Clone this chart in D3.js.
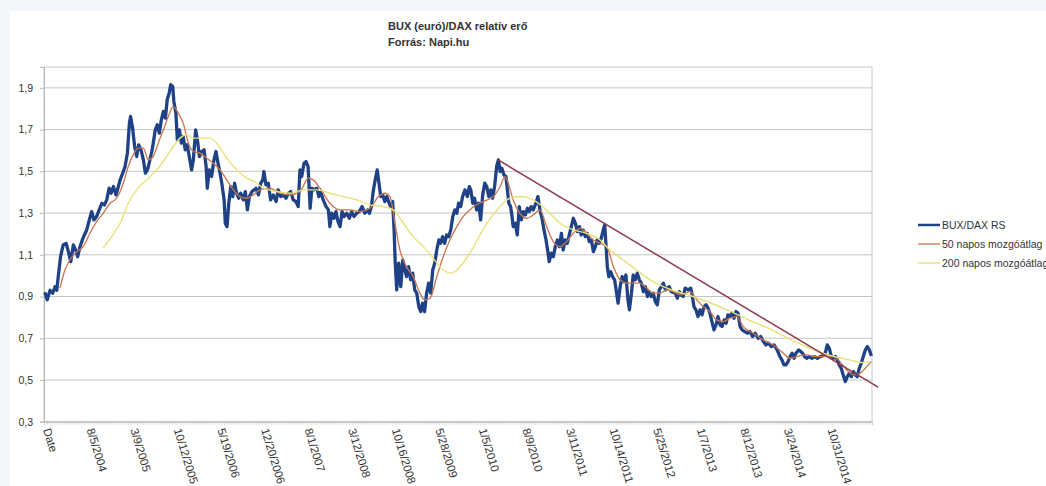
<!DOCTYPE html>
<html><head><meta charset="utf-8">
<script src="https://cdn.jsdelivr.net/npm/d3@7"></script>
<style>
html,body{margin:0;padding:0;background:#f2f5f9;}
svg{display:block;}
text{font-family:"Liberation Sans",Arial,sans-serif;}
</style></head><body>
<svg id="chart" width="1046" height="486"></svg>
<script>
// ---- data ----
const titleLines = ["BUX (euró)/DAX relatív erő", "Forrás: Napi.hu"];
const tickLabels = ["Date","8/5/2004","3/9/2005","10/12/2005","5/19/2006","12/20/2006","8/1/2007","3/12/2008","10/16/2008","5/28/2009","1/5/2010","8/9/2010","3/11/2011","10/14/2011","5/25/2012","1/7/2013","8/12/2013","3/24/2014","10/31/2014"];
const labelEvery = 150; // categories between labels
const categoryCount = 2850;
const yTicks = [0.3,0.5,0.7,0.9,1.1,1.3,1.5,1.7,1.9];
const seriesNames = ["BUX/DAX RS","50 napos mozgóátlag","200 napos mozgóátlag"];

const rsDay = [3,11,21,30,38,44,49,57,66,76,84,92,101,109,116,124,132,139,147,156,164,172,181,190,199,208,216,224,231,239,248,256,262,271,279,287,294,298,305,312,319,326,334,342,349,356,362,371,376,383,390,397,404,411,418,424,431,436,443,447,454,459,466,473,479,486,493,500,508,514,522,528,535,543,551,558,562,569,577,585,592,599,606,612,620,624,630,636,643,650,656,663,670,677,686,693,700,707,716,730,738,746,753,757,764,772,780,789,799,806,815,824,833,841,849,858,867,875,881,887,895,902,909,916,922,929,939,946,952,961,971,979,984,991,998,1005,1012,1019,1026,1033,1042,1051,1059,1067,1076,1085,1095,1104,1113,1120,1127,1133,1140,1147,1153,1159,1166,1173,1180,1186,1193,1200,1205,1209,1214,1221,1228,1235,1242,1248,1255,1262,1269,1276,1283,1290,1297,1303,1310,1317,1324,1331,1338,1345,1352,1359,1365,1372,1379,1386,1393,1400,1407,1414,1421,1427,1434,1441,1449,1457,1464,1469,1476,1482,1489,1496,1503,1510,1517,1524,1531,1538,1544,1551,1558,1564,1570,1576,1583,1590,1595,1600,1606,1611,1615,1622,1629,1636,1643,1650,1657,1664,1670,1677,1684,1693,1700,1707,1714,1721,1728,1735,1739,1746,1753,1760,1767,1774,1781,1787,1794,1801,1808,1815,1822,1829,1836,1843,1849,1856,1863,1870,1877,1884,1891,1898,1904,1911,1918,1925,1930,1934,1939,1944,1951,1957,1964,1971,1976,1983,1990,1996,2003,2010,2015,2022,2028,2035,2042,2049,2056,2063,2070,2077,2083,2090,2097,2104,2111,2118,2125,2132,2139,2145,2152,2159,2166,2173,2180,2187,2192,2200,2207,2217,2226,2230,2237,2244,2251,2258,2265,2272,2279,2286,2292,2299,2306,2313,2320,2327,2334,2341,2348,2354,2361,2368,2375,2382,2389,2396,2403,2412,2421,2430,2439,2448,2458,2467,2476,2485,2494,2503,2513,2520,2526,2533,2540,2547,2554,2561,2568,2575,2582,2588,2598,2605,2611,2618,2625,2634,2643,2653,2662,2671,2680,2689,2696,2703,2710,2717,2724,2731,2737,2744,2751,2758,2765,2772,2779,2786,2793,2799,2806,2813,2820,2827,2834,2841,2848];
const rsValue = [0.92,0.884,0.93,0.916,0.947,0.93,0.995,1.091,1.147,1.155,1.115,1.067,1.147,1.123,1.091,1.139,1.171,1.195,1.219,1.267,1.307,1.267,1.283,1.315,1.347,1.339,1.363,1.419,1.395,1.427,1.387,1.427,1.459,1.491,1.523,1.587,1.731,1.763,1.707,1.619,1.571,1.627,1.603,1.555,1.491,1.507,1.539,1.595,1.635,1.699,1.723,1.683,1.747,1.787,1.755,1.843,1.875,1.915,1.907,1.835,1.779,1.651,1.699,1.635,1.667,1.603,1.627,1.571,1.507,1.555,1.699,1.651,1.571,1.595,1.603,1.523,1.419,1.507,1.475,1.555,1.595,1.539,1.491,1.443,1.363,1.251,1.235,1.347,1.427,1.379,1.443,1.395,1.371,1.395,1.363,1.403,1.315,1.379,1.403,1.419,1.387,1.443,1.459,1.499,1.435,1.443,1.363,1.387,1.355,1.411,1.379,1.387,1.371,1.395,1.403,1.363,1.355,1.331,1.507,1.475,1.539,1.547,1.523,1.323,1.419,1.411,1.419,1.379,1.403,1.363,1.331,1.315,1.235,1.299,1.275,1.307,1.259,1.235,1.307,1.283,1.299,1.275,1.307,1.283,1.299,1.307,1.331,1.299,1.315,1.299,1.331,1.403,1.459,1.507,1.443,1.379,1.387,1.355,1.379,1.355,1.331,1.355,1.219,1.060,0.932,1.060,0.947,1.075,1.027,0.995,1.043,0.980,1.012,0.932,0.916,0.852,0.828,0.868,0.828,0.916,0.964,0.916,1.027,1.060,1.123,1.171,1.155,1.187,1.155,1.195,1.187,1.219,1.283,1.315,1.299,1.347,1.331,1.379,1.411,1.379,1.427,1.411,1.347,1.371,1.315,1.347,1.267,1.387,1.443,1.427,1.379,1.411,1.371,1.427,1.523,1.555,1.499,1.515,1.483,1.475,1.411,1.347,1.331,1.283,1.235,1.251,1.195,1.331,1.267,1.307,1.291,1.323,1.307,1.331,1.315,1.347,1.379,1.315,1.275,1.219,1.171,1.108,1.067,1.108,1.091,1.139,1.171,1.139,1.203,1.123,1.171,1.155,1.195,1.235,1.275,1.251,1.211,1.235,1.195,1.219,1.187,1.203,1.163,1.171,1.115,1.139,1.171,1.155,1.179,1.219,1.243,1.155,1.043,0.995,1.019,0.995,0.980,0.916,0.868,0.947,0.995,0.971,1.003,0.884,0.836,0.916,1.003,0.980,1.012,0.980,0.964,0.923,0.947,0.900,0.923,0.900,0.916,0.876,0.860,0.932,0.947,0.964,0.932,0.940,0.947,0.923,0.920,0.916,0.892,0.923,0.908,0.900,0.940,0.932,0.940,0.916,0.852,0.836,0.804,0.836,0.812,0.852,0.860,0.844,0.820,0.780,0.740,0.764,0.804,0.764,0.756,0.788,0.772,0.812,0.804,0.820,0.796,0.828,0.820,0.756,0.740,0.732,0.724,0.732,0.708,0.724,0.700,0.708,0.684,0.668,0.676,0.660,0.668,0.652,0.636,0.612,0.596,0.572,0.572,0.588,0.612,0.628,0.604,0.628,0.644,0.636,0.628,0.612,0.604,0.612,0.604,0.612,0.604,0.612,0.615,0.628,0.668,0.652,0.612,0.604,0.612,0.596,0.572,0.556,0.524,0.492,0.516,0.532,0.516,0.540,0.524,0.516,0.556,0.580,0.612,0.644,0.660,0.644,0.615];

const ma50Day = [55,72,89,113,135,158,181,204,227,250,273,290,307,325,342,359,376,393,411,428,445,462,479,497,514,537,560,583,606,629,652,675,698,720,743,778,812,847,881,910,927,950,984,1019,1053,1088,1122,1151,1174,1191,1208,1225,1248,1271,1294,1311,1329,1352,1374,1397,1421,1443,1466,1478,1512,1547,1570,1587,1598,1615,1638,1661,1684,1707,1730,1753,1776,1799,1822,1845,1868,1891,1914,1937,1960,1983,2006,2028,2051,2075,2097,2120,2143,2166,2189,2224,2247,2269,2292,2315,2338,2361,2384,2407,2441,2476,2510,2545,2568,2591,2625,2660,2694,2717,2740,2763,2786,2809,2832,2848];
const ma50Value = [0.94,1.027,1.075,1.115,1.139,1.203,1.259,1.299,1.347,1.371,1.443,1.523,1.579,1.611,1.611,1.555,1.571,1.635,1.699,1.763,1.811,1.779,1.731,1.635,1.595,1.587,1.563,1.539,1.507,1.459,1.411,1.379,1.371,1.387,1.411,1.419,1.395,1.387,1.403,1.467,1.459,1.419,1.347,1.315,1.315,1.307,1.323,1.379,1.395,1.379,1.251,1.123,1.043,0.995,0.916,0.884,0.892,0.995,1.091,1.171,1.235,1.283,1.315,1.33,1.355,1.379,1.427,1.475,1.443,1.363,1.299,1.275,1.291,1.315,1.235,1.163,1.139,1.163,1.203,1.227,1.203,1.171,1.155,1.139,1.043,0.980,0.964,0.964,0.964,0.940,0.916,0.916,0.932,0.923,0.908,0.923,0.884,0.852,0.828,0.788,0.780,0.796,0.804,0.756,0.724,0.692,0.668,0.628,0.604,0.612,0.620,0.612,0.615,0.612,0.588,0.548,0.524,0.532,0.564,0.588];

const ma200Day = [204,233,262,290,319,353,388,422,445,468,491,514,548,571,594,629,663,698,726,755,801,847,893,939,984,1030,1076,1122,1168,1202,1237,1271,1306,1340,1374,1403,1432,1466,1524,1570,1604,1638,1684,1730,1776,1822,1868,1914,1948,1994,2040,2086,2132,2178,2224,2292,2361,2430,2499,2568,2637,2705,2774,2820,2848];
const ma200Value = [1.132,1.187,1.251,1.347,1.411,1.459,1.507,1.571,1.619,1.659,1.675,1.659,1.659,1.659,1.635,1.563,1.507,1.467,1.450,1.419,1.403,1.395,1.411,1.411,1.395,1.379,1.363,1.339,1.331,1.315,1.251,1.187,1.139,1.083,1.027,1.012,1.043,1.108,1.251,1.331,1.371,1.379,1.363,1.315,1.251,1.219,1.203,1.171,1.123,1.075,1.027,0.980,0.947,0.923,0.905,0.870,0.830,0.785,0.745,0.695,0.652,0.618,0.596,0.583,0.590];

const trendDay = [1563, 2871];
const trendValue = [1.555, 0.466];

// ---- drawing ----
const svg = d3.select("#chart");
const W = 1046, H = 486;
const pLeft = 44, pRight = 872, pTop = 67, pBottom = 421.7;

svg.append("rect").attr("x",10).attr("y",11).attr("width",W-10).attr("height",H-11).attr("fill","#ffffff");

const x = d3.scaleLinear().domain([0, categoryCount]).range([pLeft, pRight]);
const y = d3.scaleLinear().domain([0.3, 2.0]).range([pBottom, pTop]);

// gridlines
svg.append("g").selectAll("line").data(yTicks).join("line")
  .attr("x1", pLeft).attr("x2", pRight)
  .attr("y1", d => y(d)).attr("y2", d => y(d))
  .attr("stroke", "#c4c4c4").attr("stroke-width", 1);

// plot frame
svg.append("rect").attr("x", pLeft).attr("y", pTop).attr("width", pRight-pLeft).attr("height", pBottom-pTop)
  .attr("fill","none").attr("stroke","#c8c8c8").attr("stroke-width",1);

// y axis
const yAxis = d3.axisLeft(y).tickValues(yTicks).tickSize(4).tickPadding(7)
  .tickFormat(d => d.toFixed(1).replace(".", ","));
const gy = svg.append("g").attr("transform", `translate(${pLeft},0)`).call(yAxis);
gy.select(".domain").attr("stroke","#b8b8b8");
gy.selectAll(".tick line").attr("stroke","#b8b8b8");
gy.selectAll("text").attr("font-size","10.5px").attr("fill","#333").attr("font-family","Liberation Sans, Arial, sans-serif");

// x axis (dense category tick marks)
const xAxis = d3.axisBottom(x).tickValues(d3.range(0, categoryCount + 1, 10)).tickSize(3).tickFormat("");
const gx = svg.append("g").attr("transform", `translate(0,${pBottom})`).call(xAxis);
gx.select(".domain").attr("stroke","#b8b8b8");
gx.selectAll(".tick line").attr("stroke","#cfcfcf");

// x labels
svg.append("g").selectAll("text").data(tickLabels).join("text")
  .attr("transform", (d,i) => `translate(${x(i*labelEvery)-1},${pBottom+8}) rotate(73)`)
  .attr("text-anchor","start")
  .attr("font-size","11.5px").attr("fill","#333")
  .text(d => d);

// lines
const mk = (days, vals) => days.map((d,i) => [d, vals[i]]);
const line = d3.line().x(d => x(d[0])).y(d => y(d[1]));
const smooth = d3.line().x(d => x(d[0])).y(d => y(d[1])).curve(d3.curveMonotoneX);

svg.append("path").datum(mk(rsDay, rsValue)).attr("d", line)
  .attr("fill","none").attr("stroke","#1f4286").attr("stroke-width",3.3).attr("stroke-linejoin","round");
svg.append("path").datum(mk(ma50Day, ma50Value)).attr("d", smooth)
  .attr("fill","none").attr("stroke","#c8744e").attr("stroke-width",1.3);
svg.append("path").datum(mk(ma200Day, ma200Value)).attr("d", smooth)
  .attr("fill","none").attr("stroke","#e9e17a").attr("stroke-width",1.4);
svg.append("path").datum(mk(trendDay, trendValue)).attr("d", line)
  .attr("fill","none").attr("stroke","#8e3a4c").attr("stroke-width",1.5);

// title
svg.append("g").selectAll("text").data(titleLines).join("text")
  .attr("x", 388).attr("y", (d,i) => 30 + i*16)
  .attr("font-size","11px").attr("font-weight","bold").attr("fill","#333")
  .text(d => d);

// legend
const legColors = ["#1f4286","#c8744e","#e9e17a"];
const legWidths = [2.5,1.3,1.4];
const legY = [225,244,263];
const lg = svg.append("g").selectAll("g").data(seriesNames).join("g")
  .attr("transform", (d,i) => `translate(918,${legY[i]})`);
lg.append("line").attr("x1",0).attr("x2",22).attr("y1",0).attr("y2",0)
  .attr("stroke",(d,i)=>legColors[i]).attr("stroke-width",(d,i)=>legWidths[i]);
lg.append("text").attr("x",24).attr("y",3.5).attr("font-size","10.5px").attr("fill","#333").text(d => d);
</script>
</body></html>
